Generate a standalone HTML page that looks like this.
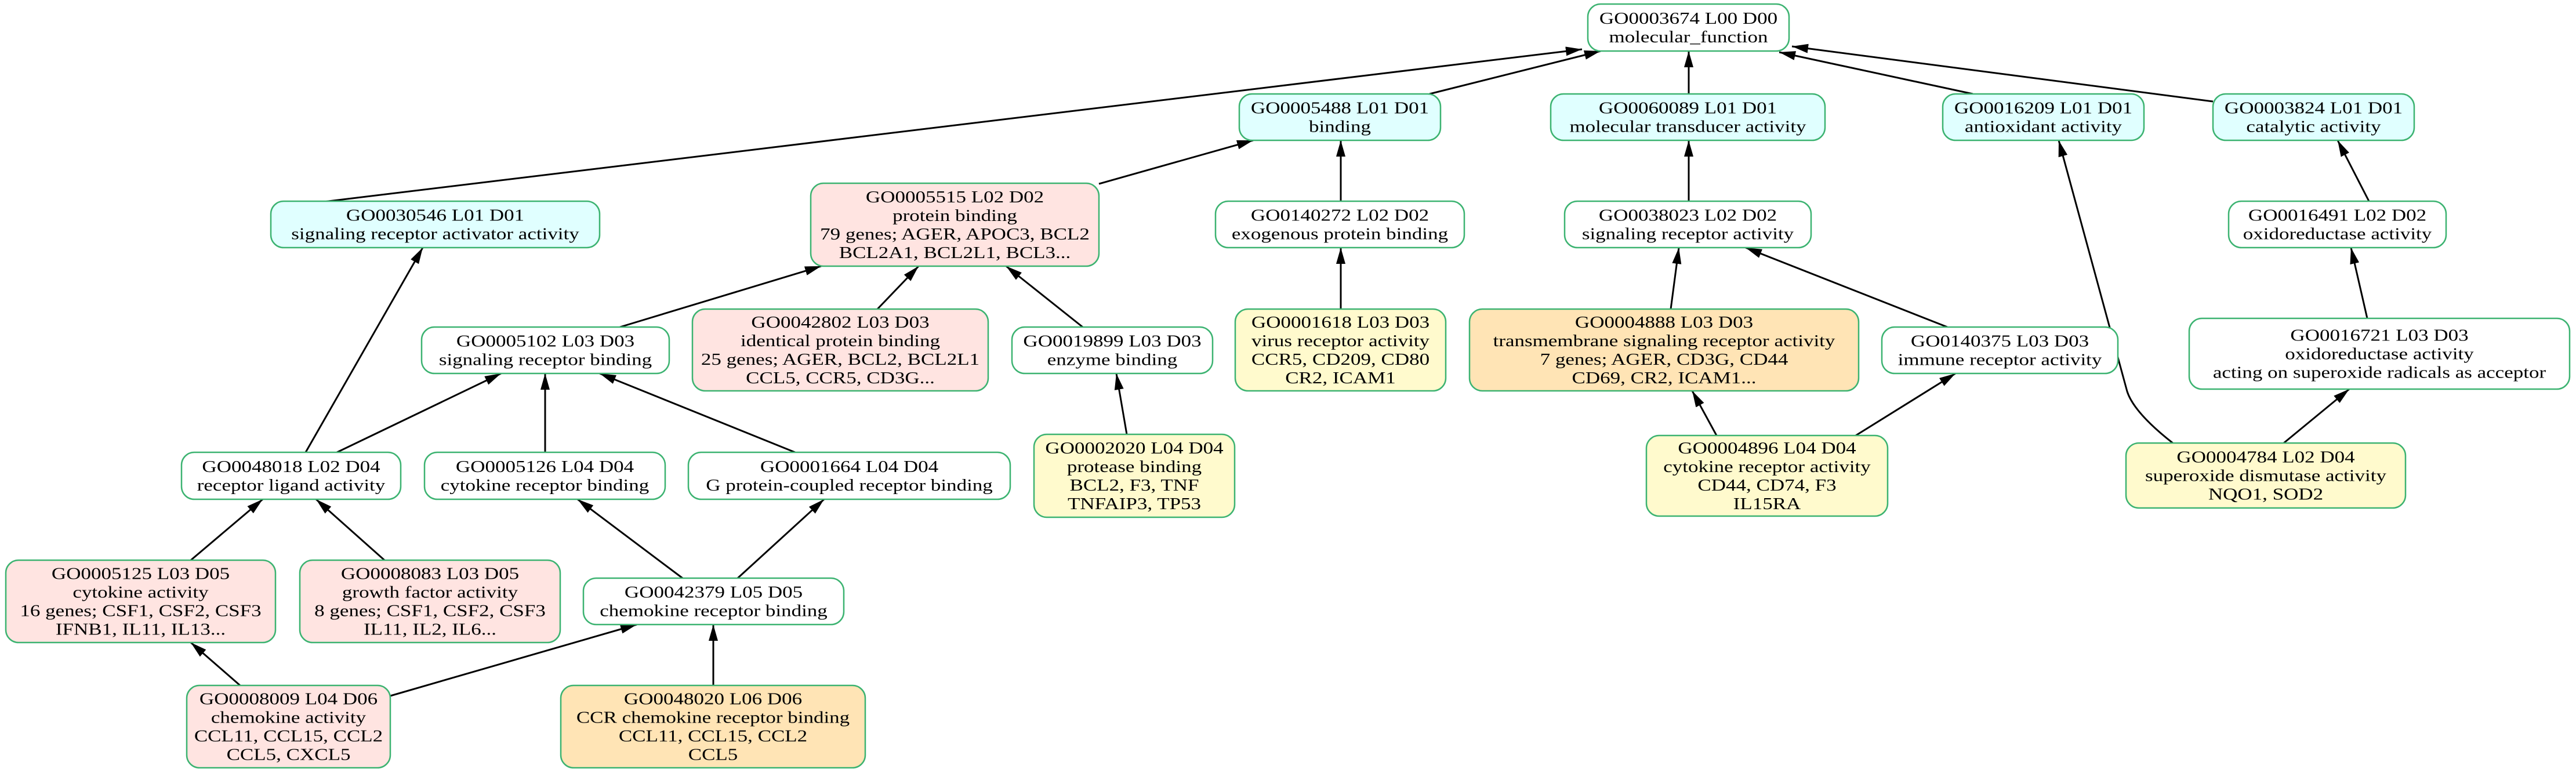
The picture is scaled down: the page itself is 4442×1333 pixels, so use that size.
<!DOCTYPE html>
<html><head><meta charset="utf-8"><style>
html,body{margin:0;padding:0;background:#fff;}
svg{display:block;}
text{font-family:"Liberation Serif",serif;font-size:28px;text-anchor:middle;dominant-baseline:central;fill:#000;}
.n{stroke:#3cb371;stroke-width:2.5;}
.e{stroke:#000;stroke-width:3;fill:none;marker-end:url(#ah);}
</style></head><body>
<svg width="4442" height="1333" viewBox="0 0 4442 1333" xmlns="http://www.w3.org/2000/svg">
<defs><marker id="ah" markerUnits="userSpaceOnUse" markerWidth="30" markerHeight="18" refX="28" refY="8" orient="auto"><path d="M0,0 L28,8 L0,16 z" fill="#000"/></marker></defs>
<g>
<line class="e" x1="558" y1="348" x2="2728" y2="85"/>
<line class="e" x1="2465" y1="162" x2="2760" y2="88"/>
<line class="e" x1="2912" y1="162" x2="2912" y2="88"/>
<line class="e" x1="3402" y1="162" x2="3068" y2="90"/>
<line class="e" x1="3816" y1="175" x2="3090" y2="80"/>
<line class="e" x1="1895" y1="317" x2="2161" y2="242"/>
<line class="e" x1="2312" y1="347" x2="2312" y2="242"/>
<line class="e" x1="2912" y1="347" x2="2912" y2="242"/>
<line class="e" x1="4085" y1="347" x2="4031" y2="242"/>
<line class="e" x1="4082" y1="549" x2="4054" y2="427"/>
<path class="e" d="M3748,765 Q3680,712 3668,675 L3550,242"/>
<line class="e" x1="3938" y1="764" x2="4051" y2="671"/>
<line class="e" x1="2881" y1="533" x2="2895" y2="427"/>
<line class="e" x1="3358" y1="564" x2="3010" y2="427"/>
<line class="e" x1="2960" y1="751" x2="2918" y2="674"/>
<line class="e" x1="3200" y1="751" x2="3372" y2="644"/>
<line class="e" x1="2312" y1="533" x2="2312" y2="427"/>
<line class="e" x1="1943" y1="749" x2="1925" y2="644"/>
<line class="e" x1="1069" y1="564" x2="1416" y2="459"/>
<line class="e" x1="1513" y1="533" x2="1584" y2="459"/>
<line class="e" x1="1867" y1="564" x2="1735" y2="459"/>
<line class="e" x1="581" y1="780" x2="864" y2="644"/>
<line class="e" x1="940" y1="780" x2="940" y2="644"/>
<line class="e" x1="1371" y1="780" x2="1034" y2="644"/>
<line class="e" x1="527" y1="780" x2="729" y2="427"/>
<line class="e" x1="329" y1="966" x2="453" y2="861"/>
<line class="e" x1="663" y1="966" x2="545" y2="861"/>
<line class="e" x1="1177" y1="997" x2="996" y2="861"/>
<line class="e" x1="1272" y1="997" x2="1421" y2="861"/>
<line class="e" x1="414" y1="1182" x2="329" y2="1108"/>
<line class="e" x1="673" y1="1200" x2="1098" y2="1077"/>
<line class="e" x1="1230" y1="1182" x2="1230" y2="1077"/>
</g>

<rect class="n" x="2738" y="7" width="347" height="81" rx="22" fill="#fff"/>
<g transform="translate(2911.5,0) scale(1.25,1)"><text y="31.5">GO0003674 L00 D00</text><text y="63.5">molecular_function</text></g>

<rect class="n" x="2137" y="162" width="347" height="80" rx="22" fill="#e0ffff"/>
<g transform="translate(2310.5,0) scale(1.25,1)"><text y="186">GO0005488 L01 D01</text><text y="218">binding</text></g>

<rect class="n" x="2674" y="162" width="473" height="80" rx="22" fill="#e0ffff"/>
<g transform="translate(2910.5,0) scale(1.25,1)"><text y="186">GO0060089 L01 D01</text><text y="218">molecular transducer activity</text></g>

<rect class="n" x="3350" y="162" width="347" height="80" rx="22" fill="#e0ffff"/>
<g transform="translate(3523.5,0) scale(1.25,1)"><text y="186">GO0016209 L01 D01</text><text y="218">antioxidant activity</text></g>

<rect class="n" x="3816" y="162" width="347" height="80" rx="22" fill="#e0ffff"/>
<g transform="translate(3989.5,0) scale(1.25,1)"><text y="186">GO0003824 L01 D01</text><text y="218">catalytic activity</text></g>

<rect class="n" x="467" y="347" width="567" height="80" rx="22" fill="#e0ffff"/>
<g transform="translate(750.5,0) scale(1.25,1)"><text y="371">GO0030546 L01 D01</text><text y="403">signaling receptor activator activity</text></g>

<rect class="n" x="1398" y="316" width="497" height="143" rx="22" fill="#ffe4e1"/>
<g transform="translate(1646.5,0) scale(1.25,1)"><text y="339.5">GO0005515 L02 D02</text><text y="371.5">protein binding</text><text y="403.5">79 genes; AGER, APOC3, BCL2</text><text y="435.5">BCL2A1, BCL2L1, BCL3...</text></g>

<rect class="n" x="2096" y="347" width="429" height="80" rx="22" fill="#fff"/>
<g transform="translate(2310.5,0) scale(1.25,1)"><text y="371">GO0140272 L02 D02</text><text y="403">exogenous protein binding</text></g>

<rect class="n" x="2698" y="347" width="425" height="80" rx="22" fill="#fff"/>
<g transform="translate(2910.5,0) scale(1.25,1)"><text y="371">GO0038023 L02 D02</text><text y="403">signaling receptor activity</text></g>

<rect class="n" x="3843" y="347" width="375" height="80" rx="22" fill="#fff"/>
<g transform="translate(4030.5,0) scale(1.25,1)"><text y="371">GO0016491 L02 D02</text><text y="403">oxidoreductase activity</text></g>

<rect class="n" x="727" y="564" width="427" height="80" rx="22" fill="#fff"/>
<g transform="translate(940.5,0) scale(1.25,1)"><text y="588">GO0005102 L03 D03</text><text y="620">signaling receptor binding</text></g>

<rect class="n" x="1194" y="533" width="510" height="141" rx="22" fill="#ffe4e1"/>
<g transform="translate(1449,0) scale(1.25,1)"><text y="555.5">GO0042802 L03 D03</text><text y="587.5">identical protein binding</text><text y="619.5">25 genes; AGER, BCL2, BCL2L1</text><text y="651.5">CCL5, CCR5, CD3G...</text></g>

<rect class="n" x="1745" y="564" width="346" height="80" rx="22" fill="#fff"/>
<g transform="translate(1918,0) scale(1.25,1)"><text y="588">GO0019899 L03 D03</text><text y="620">enzyme binding</text></g>

<rect class="n" x="2130" y="533" width="363" height="141" rx="22" fill="#fffacd"/>
<g transform="translate(2311.5,0) scale(1.25,1)"><text y="555.5">GO0001618 L03 D03</text><text y="587.5">virus receptor activity</text><text y="619.5">CCR5, CD209, CD80</text><text y="651.5">CR2, ICAM1</text></g>

<rect class="n" x="2534" y="533" width="671" height="141" rx="22" fill="#ffe4b5"/>
<g transform="translate(2869.5,0) scale(1.25,1)"><text y="555.5">GO0004888 L03 D03</text><text y="587.5">transmembrane signaling receptor activity</text><text y="619.5">7 genes; AGER, CD3G, CD44</text><text y="651.5">CD69, CR2, ICAM1...</text></g>

<rect class="n" x="3245" y="564" width="407" height="80" rx="22" fill="#fff"/>
<g transform="translate(3448.5,0) scale(1.25,1)"><text y="588">GO0140375 L03 D03</text><text y="620">immune receptor activity</text></g>

<rect class="n" x="3775" y="549" width="656" height="122" rx="22" fill="#fff"/>
<g transform="translate(4103,0) scale(1.25,1)"><text y="578">GO0016721 L03 D03</text><text y="610">oxidoreductase activity</text><text y="642">acting on superoxide radicals as acceptor</text></g>

<rect class="n" x="313" y="780" width="378" height="81" rx="22" fill="#fff"/>
<g transform="translate(502,0) scale(1.25,1)"><text y="804.5">GO0048018 L02 D04</text><text y="836.5">receptor ligand activity</text></g>

<rect class="n" x="732" y="780" width="415" height="81" rx="22" fill="#fff"/>
<g transform="translate(939.5,0) scale(1.25,1)"><text y="804.5">GO0005126 L04 D04</text><text y="836.5">cytokine receptor binding</text></g>

<rect class="n" x="1187" y="780" width="555" height="81" rx="22" fill="#fff"/>
<g transform="translate(1464.5,0) scale(1.25,1)"><text y="804.5">GO0001664 L04 D04</text><text y="836.5">G protein-coupled receptor binding</text></g>

<rect class="n" x="1783" y="749" width="346" height="143" rx="22" fill="#fffacd"/>
<g transform="translate(1956,0) scale(1.25,1)"><text y="772.5">GO0002020 L04 D04</text><text y="804.5">protease binding</text><text y="836.5">BCL2, F3, TNF</text><text y="868.5">TNFAIP3, TP53</text></g>

<rect class="n" x="2839" y="751" width="416" height="139" rx="22" fill="#fffacd"/>
<g transform="translate(3047,0) scale(1.25,1)"><text y="772.5">GO0004896 L04 D04</text><text y="804.5">cytokine receptor activity</text><text y="836.5">CD44, CD74, F3</text><text y="868.5">IL15RA</text></g>

<rect class="n" x="3666" y="764" width="482" height="112" rx="22" fill="#fffacd"/>
<g transform="translate(3907,0) scale(1.25,1)"><text y="788">GO0004784 L02 D04</text><text y="820">superoxide dismutase activity</text><text y="852">NQO1, SOD2</text></g>

<rect class="n" x="10" y="966" width="465" height="142" rx="22" fill="#ffe4e1"/>
<g transform="translate(242.5,0) scale(1.25,1)"><text y="989">GO0005125 L03 D05</text><text y="1021">cytokine activity</text><text y="1053">16 genes; CSF1, CSF2, CSF3</text><text y="1085">IFNB1, IL11, IL13...</text></g>

<rect class="n" x="517" y="966" width="449" height="142" rx="22" fill="#ffe4e1"/>
<g transform="translate(741.5,0) scale(1.25,1)"><text y="989">GO0008083 L03 D05</text><text y="1021">growth factor activity</text><text y="1053">8 genes; CSF1, CSF2, CSF3</text><text y="1085">IL11, IL2, IL6...</text></g>

<rect class="n" x="1006" y="997" width="449" height="80" rx="22" fill="#fff"/>
<g transform="translate(1230.5,0) scale(1.25,1)"><text y="1021">GO0042379 L05 D05</text><text y="1053">chemokine receptor binding</text></g>

<rect class="n" x="322" y="1182" width="351" height="142" rx="22" fill="#ffe4e1"/>
<g transform="translate(497.5,0) scale(1.25,1)"><text y="1205">GO0008009 L04 D06</text><text y="1237">chemokine activity</text><text y="1269">CCL11, CCL15, CCL2</text><text y="1301">CCL5, CXCL5</text></g>

<rect class="n" x="967" y="1182" width="525" height="142" rx="22" fill="#ffe4b5"/>
<g transform="translate(1229.5,0) scale(1.25,1)"><text y="1205">GO0048020 L06 D06</text><text y="1237">CCR chemokine receptor binding</text><text y="1269">CCL11, CCL15, CCL2</text><text y="1301">CCL5</text></g>
</svg>
</body></html>
